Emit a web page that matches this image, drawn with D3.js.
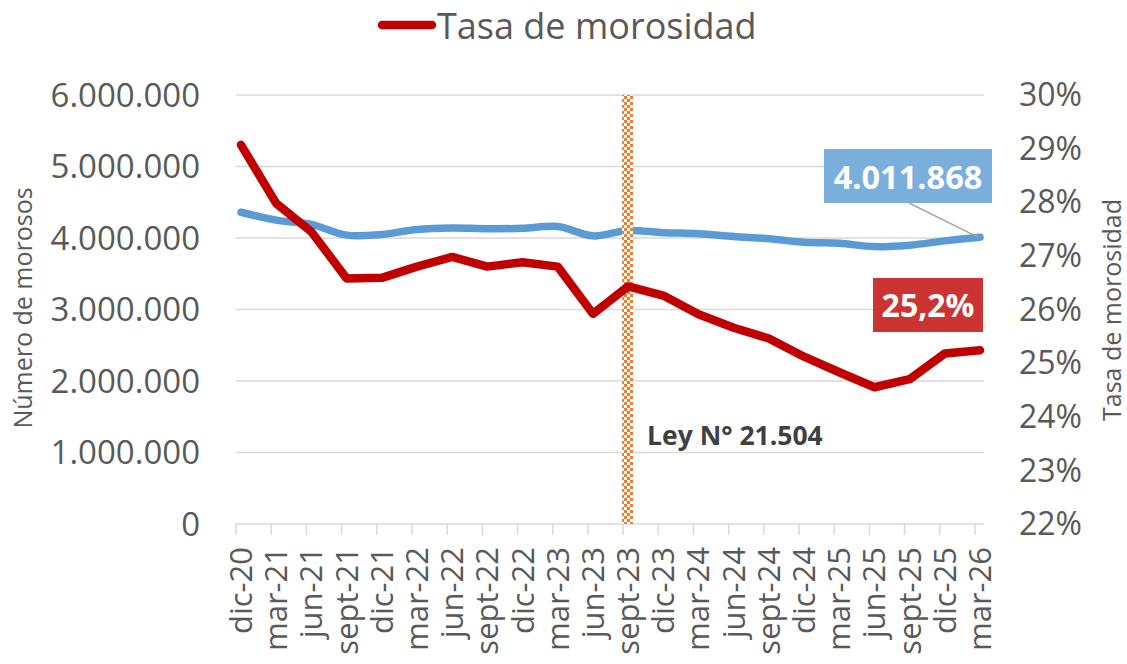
<!DOCTYPE html>
<html>
<head>
<meta charset="utf-8">
<script src="https://cdn.jsdelivr.net/npm/d3@7"></script>
<style>
  body { margin: 0; background: #fff; }
  text { font-family: "Open Sans", sans-serif; fill: #595959; }
</style>
</head>
<body>
<div id="chart"></div>
<script>
const categories = ["dic-20", "mar-21", "jun-21", "sept-21", "dic-21", "mar-22", "jun-22", "sept-22",
  "dic-22", "mar-23", "jun-23", "sept-23", "dic-23", "mar-24", "jun-24", "sept-24", "dic-24",
  "mar-25", "jun-25", "sept-25", "dic-25", "mar-26"];

// número de morosos (eje izquierdo)
const morosos = [4360000, 4250000, 4190000, 4040000, 4050000, 4120000, 4140000, 4130000,
  4135000, 4160000, 4030000, 4105000, 4075000, 4060000, 4020000, 3990000, 3940000,
  3925000, 3880000, 3900000, 3960000, 4011868];

// tasa de morosidad en % (eje derecho)
const tasa = [29.07, 27.98, 27.45, 26.58, 26.59, 26.80, 26.98, 26.80, 26.88, 26.80, 25.92,
  26.43, 26.26, 25.91, 25.66, 25.46, 25.12, 24.83, 24.55, 24.70, 25.18, 25.24];

const leftTicks = [0, 1000000, 2000000, 3000000, 4000000, 5000000, 6000000];
const rightTicks = [22, 23, 24, 25, 26, 27, 28, 29, 30];
const leyCategory = "sept-23";
const leyLabel = "Ley N° 21.504";

const width = 1127, height = 664;
const es = d3.formatLocale({ decimal: ",", thousands: ".", grouping: [3], currency: ["$", ""] });
const fmtInt = es.format(",.0f");
const fmtPct = v => es.format(".1f")(v) + "%";

const svg = d3.select("#chart").append("svg")
  .attr("width", width)
  .attr("height", height)
  .attr("viewBox", `0 0 ${width} ${height}`);

const x = d3.scalePoint().domain(categories).range([241, 980]);
const yL = d3.scaleLinear().domain([0, 6000000]).range([524, 95]);
const yR = d3.scaleLinear().domain([22, 30]).range([524, 95]);

const plotLeft = 236, plotRight = 984;

// checker pattern for the law marker
const defs = svg.append("defs");
const pat = defs.append("pattern")
  .attr("id", "chk")
  .attr("width", 6).attr("height", 6)
  .attr("patternUnits", "userSpaceOnUse");
pat.append("rect").attr("width", 6).attr("height", 6).attr("fill", "#fff");
pat.append("rect").attr("width", 3).attr("height", 3).attr("fill", "#ED7D31");
pat.append("rect").attr("x", 3).attr("y", 3).attr("width", 3).attr("height", 3).attr("fill", "#ED7D31");

// gridlines
svg.append("g")
  .selectAll("line")
  .data(leftTicks.slice(1))
  .join("line")
  .attr("x1", plotLeft).attr("x2", plotRight)
  .attr("y1", d => yL(d)).attr("y2", d => yL(d))
  .attr("stroke", "#D9D9D9").attr("stroke-width", 1.5);

// x axis line + ticks
const xAxis = svg.append("g");
xAxis.append("line")
  .attr("x1", plotLeft).attr("x2", plotRight)
  .attr("y1", yL(0)).attr("y2", yL(0))
  .attr("stroke", "#D9D9D9").attr("stroke-width", 1.5);
xAxis.selectAll("line.tick")
  .data(categories)
  .join("line")
  .attr("class", "tick")
  .attr("x1", d => x(d) - 5).attr("x2", d => x(d) - 5)
  .attr("y1", yL(0)).attr("y2", yL(0) + 11)
  .attr("stroke", "#D9D9D9").attr("stroke-width", 1.5);
xAxis.selectAll("text")
  .data(categories)
  .join("text")
  .attr("transform", d => `translate(${x(d) + 11},${yL(0) + 23}) rotate(-90)`)
  .attr("text-anchor", "end")
  .attr("font-size", 31)
  .text(d => d);

// left axis labels
svg.append("g")
  .selectAll("text")
  .data(leftTicks)
  .join("text")
  .attr("x", 200)
  .attr("y", d => yL(d))
  .attr("dy", "0.35em")
  .attr("text-anchor", "end")
  .attr("font-size", 33)
  .text(d => fmtInt(d));

// right axis labels
svg.append("g")
  .selectAll("text")
  .data(rightTicks)
  .join("text")
  .attr("x", 1019)
  .attr("y", d => yR(d))
  .attr("dy", "0.35em")
  .attr("font-size", 32)
  .text(d => d + "%");

// axis titles
svg.append("text")
  .attr("transform", `translate(32,308) rotate(-90)`)
  .attr("text-anchor", "middle")
  .attr("font-size", 25)
  .text("Número de morosos");
svg.append("text")
  .attr("transform", `translate(1121,310) rotate(-90)`)
  .attr("text-anchor", "middle")
  .attr("font-size", 25)
  .text("Tasa de morosidad");

// blue line (smoothed)
const lineL = d3.line()
  .x((d, i) => x(categories[i]))
  .y(d => yL(d))
  .curve(d3.curveCatmullRom.alpha(0.5));
svg.append("path")
  .datum(morosos)
  .attr("d", lineL)
  .attr("fill", "none")
  .attr("stroke", "#5B9BD5")
  .attr("stroke-width", 7.5)
  .attr("stroke-linecap", "round")
  .attr("stroke-linejoin", "round");

// law marker
svg.append("rect")
  .attr("x", x(leyCategory) - 6)
  .attr("y", yL(6000000))
  .attr("width", 11)
  .attr("height", yL(0) - yL(6000000))
  .attr("fill", "url(#chk)");

svg.append("text")
  .attr("x", x(leyCategory) + 19)
  .attr("y", 445)
  .attr("font-size", 26.5)
  .attr("font-weight", "bold")
  .style("fill", "#404040")
  .text(leyLabel);

// red line
const lineR = d3.line()
  .x((d, i) => x(categories[i]))
  .y(d => yR(d));
svg.append("path")
  .datum(tasa)
  .attr("d", lineR)
  .attr("fill", "none")
  .attr("stroke", "#C00000")
  .attr("stroke-width", 8.5)
  .attr("stroke-linecap", "round")
  .attr("stroke-linejoin", "round");

// data labels for last points
const last = categories[categories.length - 1];
svg.append("line")
  .attr("x1", 909).attr("y1", 203)
  .attr("x2", x(last) - 2).attr("y2", yL(morosos[morosos.length - 1]))
  .attr("stroke", "#A6A6A6").attr("stroke-width", 1.5);

svg.append("rect")
  .attr("x", 824).attr("y", 149).attr("width", 168).attr("height", 54)
  .attr("fill", "#7AAEDD");
svg.append("text")
  .attr("x", 908).attr("y", 189)
  .attr("text-anchor", "middle")
  .attr("font-size", 32.5).attr("font-weight", "bold")
  .style("fill", "#fff")
  .text(fmtInt(morosos[morosos.length - 1]));

svg.append("rect")
  .attr("x", 873).attr("y", 278).attr("width", 110).attr("height", 54)
  .attr("fill", "#CC3333");
svg.append("text")
  .attr("x", 928).attr("y", 317)
  .attr("text-anchor", "middle")
  .attr("font-size", 32).attr("font-weight", "bold")
  .style("fill", "#fff")
  .text(fmtPct(tasa[tasa.length - 1]));

// legend
const legend = svg.append("g");
legend.append("line")
  .attr("x1", 382).attr("x2", 432)
  .attr("y1", 25).attr("y2", 25)
  .attr("stroke", "#C00000").attr("stroke-width", 8.5)
  .attr("stroke-linecap", "round");
legend.append("text")
  .attr("x", 437).attr("y", 39)
  .attr("font-size", 36)
  .text("Tasa de morosidad");
</script>
</body>
</html>
